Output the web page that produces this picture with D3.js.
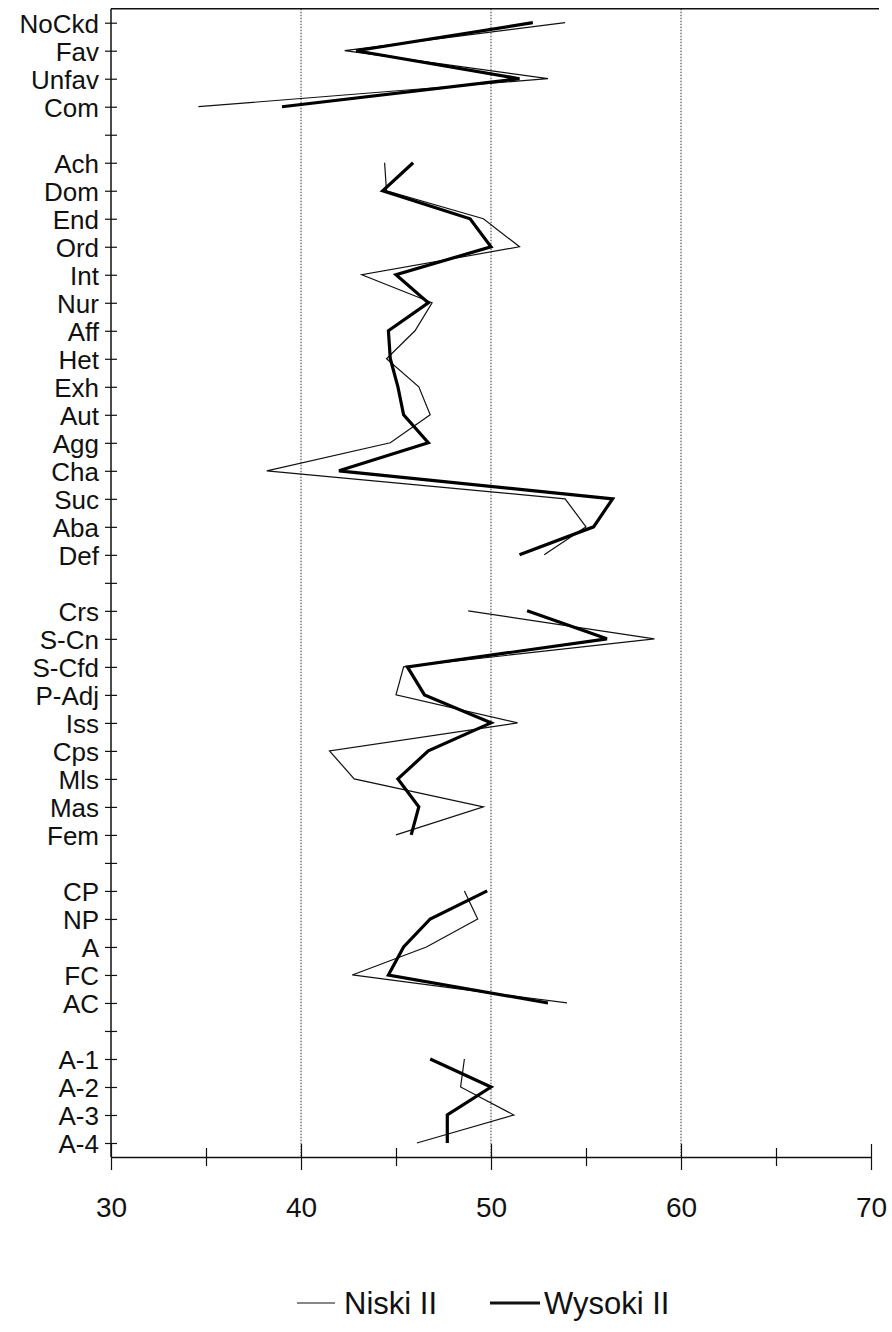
<!DOCTYPE html>
<html><head><meta charset="utf-8">
<script src="https://cdn.jsdelivr.net/npm/d3@7"></script>
<style>
html,body{margin:0;padding:0;background:#fff;}
svg text{font-family:"Liberation Sans",Arial,sans-serif;fill:#111;}
</style></head>
<body>
<svg id="chart" width="892" height="1332"></svg>
<script>
const categories = ["NoCkd","Fav","Unfav","Com","",
  "Ach","Dom","End","Ord","Int","Nur","Aff","Het","Exh","Aut","Agg","Cha","Suc","Aba","Def","",
  "Crs","S-Cn","S-Cfd","P-Adj","Iss","Cps","Mls","Mas","Fem","",
  "CP","NP","A","FC","AC","",
  "A-1","A-2","A-3","A-4"];
const niski = [53.9,42.3,53.0,34.6,null,
  44.4,44.5,49.6,51.5,43.2,46.9,46.0,44.5,46.2,46.8,44.7,38.2,53.9,55.0,52.8,null,
  48.8,58.6,45.4,45.0,51.4,41.5,42.8,49.6,45.0,null,
  48.6,49.3,46.6,42.7,54.0,null,
  48.6,48.4,51.2,46.1];
const wysoki = [52.2,42.9,51.5,39.0,null,
  45.9,44.3,48.9,50.0,45.0,46.7,44.6,44.7,45.1,45.4,46.7,42.0,56.4,55.4,51.5,null,
  51.9,56.1,45.6,46.5,50.0,46.7,45.1,46.2,45.8,null,
  49.8,46.8,45.4,44.6,53.0,null,
  46.8,50.0,47.7,47.7];
const xTicks = [30,35,40,45,50,55,60,65,70];
const xLabels = [30,40,50,60,70];
const gridValues = [40,50,60];
const seriesNames = ["Niski II","Wysoki II"];

const svg = d3.select("#chart");
svg.append("rect").attr("width",892).attr("height",1332).attr("fill","#fff");

const x = d3.scaleLinear().domain([30,70]).range([111,871]);
const y = d3.scaleLinear().domain([0, categories.length-1]).range([22.7,1143]);
const yTop = y(-0.5), yBot = y(categories.length-0.5);

// gridlines
svg.append("g").selectAll("line").data(gridValues).join("line")
  .attr("x1",d=>x(d)).attr("x2",d=>x(d)).attr("y1",yTop).attr("y2",yBot)
  .attr("stroke","#333").attr("stroke-width",1).attr("stroke-dasharray","1.5,1.5");

// top frame line
svg.append("line").attr("x1",x(30)).attr("x2",x(70)+8).attr("y1",yTop).attr("y2",yTop)
  .attr("stroke","#111").attr("stroke-width",1.5);

// y axis
const yAxis = d3.axisLeft(y).tickValues(d3.range(categories.length))
  .tickFormat(i=>categories[i]).tickSizeInner(5).tickSizeOuter(0).tickPadding(8);
const gy = svg.append("g").attr("transform",`translate(${x(30)},0)`).call(yAxis);
gy.select(".domain").attr("d",`M0,${yTop}V${yBot}`).attr("stroke","#111").attr("stroke-width",1.5);
gy.selectAll(".tick line").attr("x1",6).attr("x2",-6).attr("stroke","#111").attr("stroke-width",1.2);
gy.selectAll(".tick text").attr("font-size",26).attr("fill","#111").attr("dy","0.36em").attr("x",-12);

// x axis
const xAxis = d3.axisBottom(x).tickValues(xTicks)
  .tickFormat(d=>xLabels.includes(d)?d:"").tickSizeInner(12).tickSizeOuter(0).tickPadding(28);
const gx = svg.append("g").attr("transform",`translate(0,${yBot})`).call(xAxis);
gx.select(".domain").attr("stroke","#111").attr("stroke-width",1.5);
gx.selectAll(".tick line").attr("y1",d=>xLabels.includes(d)?-13:-9).attr("y2",d=>xLabels.includes(d)?13:9)
  .attr("stroke","#111").attr("stroke-width",1.2);
gx.selectAll(".tick text").attr("font-size",28).attr("fill","#111");

// lines
const line = d3.line().defined(d=>d.v!=null).x(d=>x(d.v)).y(d=>y(d.i));
const toPts = arr => arr.map((v,i)=>({v,i}));
svg.append("path").datum(toPts(niski)).attr("d",line)
  .attr("fill","none").attr("stroke","#111").attr("stroke-width",1.2).attr("stroke-linejoin","miter");
svg.append("path").datum(toPts(wysoki)).attr("d",line)
  .attr("fill","none").attr("stroke","#000").attr("stroke-width",3.2).attr("stroke-linejoin","miter");

// legend
const legend = svg.append("g").attr("transform","translate(0,1303)");
const legItems = [{name:seriesNames[0],w:1.2,x0:297,x1:335,tx:344},{name:seriesNames[1],w:3,x0:490,x1:540,tx:544}];
legItems.forEach(it=>{
  legend.append("line").attr("x1",it.x0).attr("x2",it.x1).attr("y1",0).attr("y2",0)
    .attr("stroke","#111").attr("stroke-width",it.w);
  legend.append("text").attr("x",it.tx).attr("y",0).attr("dy","0.36em")
    .attr("font-size",31).text(it.name);
});
</script>
</body></html>
